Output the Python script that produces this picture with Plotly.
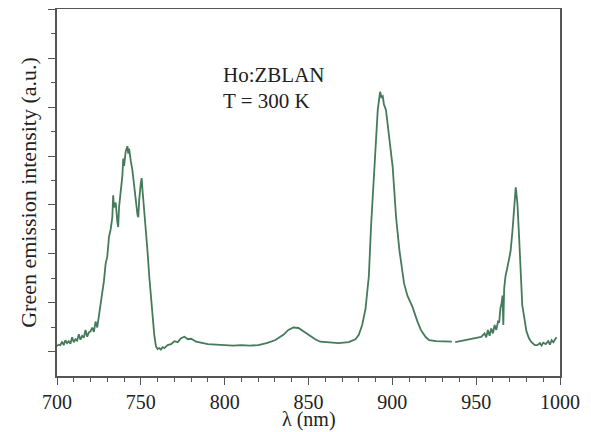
import plotly.graph_objects as go

wavelength = [700, 701, 702, 703, 704, 705, 706, 707, 708, 709, 710, 711, 712, 713, 714, 715, 716, 717, 718, 719,
              720, 721, 722, 723, 724, 725, 726, 727, 728, 729, 730, 731, 732, 733, 733.5, 734, 735, 736, 736.5, 737,
              738, 739, 739.5, 740, 741, 742, 742.5, 743, 744, 745, 746, 747, 748, 748.5, 749, 750, 750.5, 751, 752, 753,
              754, 755, 756, 757, 758, 759, 760, 761, 762, 763, 764, 766, 768, 770, 772, 774, 776, 778, 780, 783,
              786, 790, 795, 800, 805, 810, 815, 820, 825, 830, 835, 838, 841, 844, 847, 850, 854, 857, 862, 868,
              874, 878, 880, 882, 884, 886, 887.3, 888.3, 890, 891.3, 892.7, 893.5, 894.3, 895, 896.2, 897, 898.2, 899, 900.2, 901.8,
              902.2, 904.2, 907, 909, 912, 915, 917, 920, 922, 926, 930, 935.5, 936.5, 937.5, 945, 950, 953, 955, 956, 957,
              958, 959, 960, 961, 962, 963, 963.7, 964.5, 965.2, 965.7, 966.2, 966.7, 967.5, 968.7, 969.6, 970.5, 971.6, 972.6, 973.2, 973.6,
              974.1, 974.6, 975.6, 976.6, 977.5, 978.6, 980, 981.5, 983, 985, 986.5, 988, 989, 990, 991.5, 993, 994, 995, 996, 997.5, 998]

intensity = [0.12, 0.15, 0.14, 0.21, 0.14, 0.24, 0.18, 0.22, 0.17, 0.30, 0.20, 0.26, 0.23, 0.36, 0.25, 0.33, 0.29, 0.45, 0.31, 0.40,
             0.42, 0.50, 0.41, 0.62, 0.50, 0.72, 0.92, 1.18, 1.45, 1.80, 1.95, 2.35, 2.50, 2.75, 3.20, 2.95, 3.05, 2.65, 2.55, 2.95,
             3.30, 3.60, 3.95, 3.80, 4.10, 4.20, 4.05, 4.15, 3.90, 3.70, 3.40, 3.05, 2.80, 2.75, 3.10, 3.45, 3.55, 3.30, 2.90, 2.55,
             2.05, 1.55, 1.10, 0.70, 0.35, 0.12, 0.06, 0.08, 0.05, 0.10, 0.08, 0.14, 0.16, 0.22, 0.20, 0.28, 0.31, 0.26, 0.27, 0.21,
             0.19, 0.16, 0.15, 0.14, 0.13, 0.14, 0.13, 0.14, 0.18, 0.24, 0.35, 0.45, 0.50, 0.49, 0.42, 0.35, 0.26, 0.21, 0.19, 0.18,
             0.20, 0.26, 0.35, 0.55, 0.88, 1.55, 2.56, 3.10, 4.00, 4.94, 5.31, 5.20, 5.22, 5.05, 4.94, 4.70, 4.33, 4.15, 3.78, 2.97,
             2.76, 2.08, 1.40, 1.15, 0.92, 0.62, 0.45, 0.30, 0.24, 0.22, 0.22, 0.21, None, 0.20, 0.25, 0.28, 0.31, 0.38, 0.30, 0.45,
             0.33, 0.48, 0.38, 0.55, 0.45, 0.62, 0.60, 0.90, 1.00, 1.15, 0.55, 1.30, 1.55, 1.74, 1.88, 2.05, 2.45, 3.03, 3.25, 3.36,
             3.20, 3.03, 2.35, 1.40, 0.95, 0.72, 0.42, 0.28, 0.20, 0.14, 0.14, 0.18, 0.13, 0.19, 0.16, 0.22, 0.15, 0.24, 0.20, 0.28, 0.30]

x_ticks = [700, 750, 800, 850, 900, 950, 1000]
x_title = "λ (nm)"
y_title = "Green emission intensity (a.u.)"
label_lines = ["Ho:ZBLAN", "T = 300 K"]

FONT = "Liberation Serif"
AXIS = "#555555"

fig = go.Figure()
fig.add_trace(go.Scatter(x=wavelength, y=intensity, mode="lines",
                         line=dict(color="#457a5c", width=1.8), connectgaps=False,
                         showlegend=False))

fig.add_annotation(x=798, y=5.65, text=label_lines[0], showarrow=False, xanchor="left",
                   font=dict(family=FONT, size=21, color="#222"))
fig.add_annotation(x=798, y=5.12, text=label_lines[1], showarrow=False, xanchor="left",
                   font=dict(family=FONT, size=21, color="#222"))
# x-axis title placed as a paper annotation for exact vertical position
fig.add_annotation(x=0.5, y=-0.152, xref="paper", yref="paper", text=x_title,
                   showarrow=False, xanchor="center", yanchor="bottom", borderpad=0,
                   font=dict(family=FONT, size=20, color="#222"))

# page body adds an 8px offset, so the figure is sized/margined to compensate
fig.update_layout(
    width=583, height=424,
    margin=dict(l=49, r=31, t=1, b=56),
    paper_bgcolor="white", plot_bgcolor="white",
    font=dict(family=FONT, color="#222"),
)
fig.update_xaxes(
    range=[700, 1000], tickvals=x_ticks, ticktext=[str(v) for v in x_ticks],
    ticks="outside", ticklen=7, tickwidth=1.2, tickcolor=AXIS,
    minor=dict(dtick=10, tick0=700, ticks="outside", ticklen=4, tickwidth=1, tickcolor=AXIS),
    showline=True, linecolor=AXIS, linewidth=1.5, mirror=True,
    showgrid=False, zeroline=False, automargin=False,
    tickfont=dict(family=FONT, size=20, color="#222"),
)
fig.update_yaxes(
    range=[-0.49, 7.0], tick0=0, dtick=1, showticklabels=False,
    ticks="outside", ticklen=7, tickwidth=1.2, tickcolor=AXIS,
    minor=dict(dtick=0.5, tick0=0, ticks="outside", ticklen=4, tickwidth=1, tickcolor=AXIS),
    showline=True, linecolor=AXIS, linewidth=1.5, mirror=True,
    showgrid=False, zeroline=False, automargin=False,
    title=dict(text=y_title, font=dict(family=FONT, size=22, color="#222"), standoff=6),
)

fig.write_html("out.html")
